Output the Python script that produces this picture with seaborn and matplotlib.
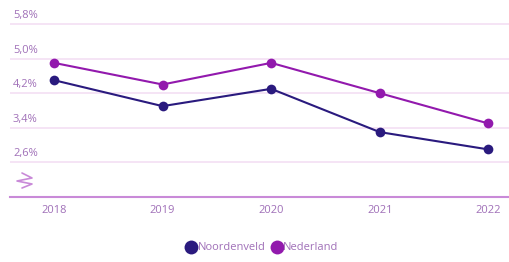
import matplotlib
matplotlib.use("Agg")
import matplotlib.pyplot as plt
import seaborn as sns
import pandas as pd
from matplotlib.lines import Line2D

years = ["2018", "2019", "2020", "2021", "2022"]
noordenveld = [4.5, 3.9, 4.3, 3.3, 2.9]
nederland = [4.9, 4.4, 4.9, 4.2, 3.5]
series_names = ["Noordenveld", "Nederland"]
yticks = [2.6, 3.4, 4.2, 5.0, 5.8]
ytick_labels = ["2,6%", "3,4%", "4,2%", "5,0%", "5,8%"]

colors = {"Noordenveld": "#2a1a7e", "Nederland": "#9219ad"}
label_color = "#a070b8"

df = pd.DataFrame({
    "year": list(range(len(years))) * 2,
    "value": noordenveld + nederland,
    "series": [series_names[0]] * len(years) + [series_names[1]] * len(years),
})

sns.set_theme(style="white")
plt.rcParams['font.family'] = ['Open Sans', 'DejaVu Sans']

fig = plt.figure(figsize=(5.10, 2.62), dpi=100)
ax = fig.add_axes([10/510, 1 - 197/262, 500/510, (197 - 19.6)/262])

for y in yticks:
    ax.axhline(y, color="#f3dff3", lw=1.2, zorder=0)

sns.lineplot(data=df, x="year", y="value", hue="series", palette=colors,
             marker="o", markersize=7, markeredgewidth=0, linewidth=1.5,
             ax=ax, legend=False)

ax.set_xlim(-0.405, 4.2)
ax.set_ylim(1.8, 5.9)
ax.set_xticks(range(len(years)))
ax.set_xticklabels(years, color=label_color, fontsize=8)
ax.set_yticks([])
ax.set_xlabel("")
ax.set_ylabel("")
ax.tick_params(axis="x", length=0, pad=6)
for s in ["top", "right", "left"]:
    ax.spines[s].set_visible(False)
ax.spines["bottom"].set_color("#c98ad8")
ax.spines["bottom"].set_linewidth(1.5)

trans = ax.get_yaxis_transform()
for y, lab in zip(yticks, ytick_labels):
    ax.text(3/500, y + 0.07, lab, transform=trans, color=label_color,
            fontsize=8, ha="left", va="bottom")

# axis break symbol
zx = [22, 32, 17, 32, 22]
zy = [173, 178, 181, 184, 188]
fx = [x / 510 for x in zx]
fy = [1 - y / 262 for y in zy]
fig.add_artist(Line2D(fx, fy, color="#c98ad8", lw=1.2))

handles = [Line2D([], [], marker="o", color="none", markerfacecolor=colors[n],
                  markeredgewidth=0, markersize=10) for n in series_names]
leg = fig.legend(handles, series_names, loc="center", bbox_to_anchor=(262/510, 1 - 248/262),
                 ncol=2, frameon=False, fontsize=8, handletextpad=0.05,
                 columnspacing=0.5, handlelength=1.0)
for t in leg.get_texts():
    t.set_color(label_color)

fig.savefig("out.png", dpi=100)
